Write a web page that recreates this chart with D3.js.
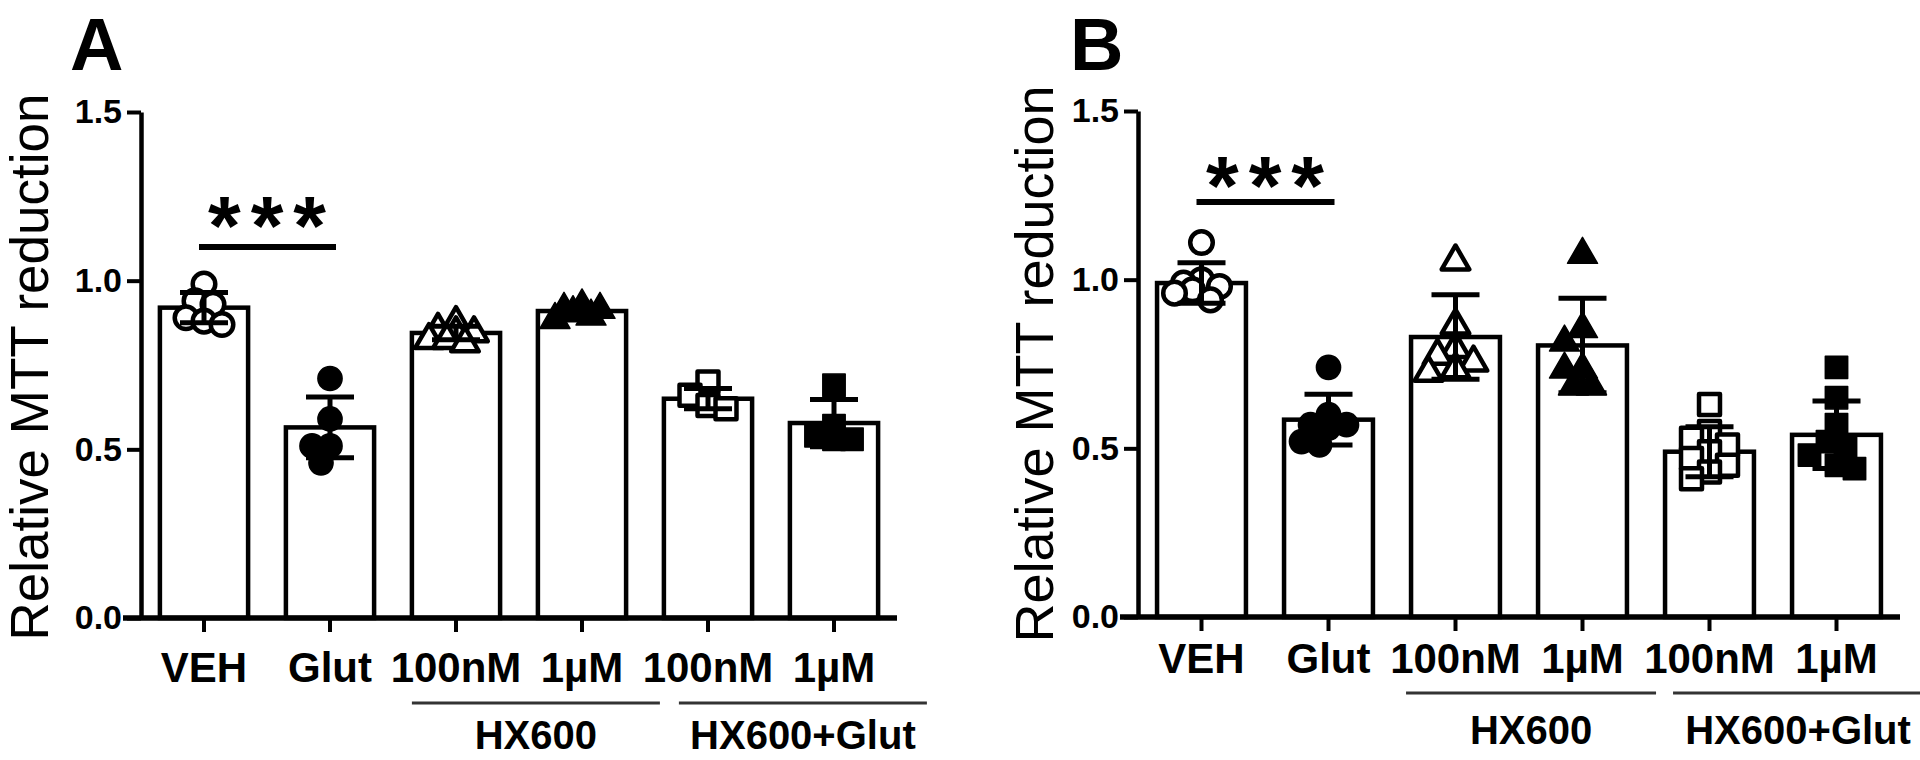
<!DOCTYPE html>
<html><head><meta charset="utf-8">
<script src="https://cdn.jsdelivr.net/npm/d3@7"></script>
<style>body{margin:0;background:#fff}svg{display:block}</style>
</head><body><svg id="c" width="1920" height="760"></svg>
<script>
// ---------- data ----------
const categories = ["VEH", "Glut", "100nM", "1µM", "100nM", "1µM"];
const groupLabels = ["HX600", "HX600+Glut"];
const groupMembers = [[2, 3], [4, 5]];
const yTicks = [0, 0.5, 1.0, 1.5];
const markerShapes = ["circle", "circle", "triangle", "triangle", "square", "square"];
const markerFilled = [false, true, false, true, false, true];
const sigLabel = "***";

const meansA = [0.92, 0.565, 0.845, 0.91, 0.65, 0.578];
const sdA = [0.045, 0.09, 0.02, 0.015, 0.03, 0.07];
const pointsA = [
  [0.99, 0.94, 0.93, 0.89, 0.88, 0.87],
  [0.71, 0.59, 0.51, 0.51, 0.46],
  [0.88, 0.86, 0.85, 0.85, 0.83, 0.83, 0.82],
  [0.93, 0.92, 0.92, 0.91, 0.90, 0.89],
  [0.70, 0.66, 0.63, 0.62],
  [0.69, 0.57, 0.54, 0.53, 0.53]
];
const sigA = [1.10, 1.22]; // bar level, star level

const meansB = [0.99, 0.585, 0.83, 0.805, 0.49, 0.54];
const sdB = [0.06, 0.075, 0.125, 0.14, 0.074, 0.10];
const pointsB = [
  [1.11, 1.00, 0.99, 0.98, 0.97, 0.96, 0.94],
  [0.74, 0.60, 0.57, 0.57, 0.56, 0.52, 0.51],
  [1.06, 0.87, 0.80, 0.78, 0.76, 0.74, 0.73],
  [1.08, 0.86, 0.82, 0.74, 0.74, 0.69, 0.69],
  [0.63, 0.55, 0.53, 0.51, 0.49, 0.47, 0.45, 0.43, 0.41],
  [0.74, 0.65, 0.57, 0.52, 0.50, 0.48, 0.45, 0.44]
];
const sigB = [1.23, 1.335];

// ---------- layout ----------
const panels = [
  {letter: "A", lx: 70, ly: 70, x0: 141, x1: 897, y0: 618, y1: 112,
   titleX: 48, titleY: 367, titleSize: 53, xLabelY: 682, groupLineY: 703, groupLabelY: 749,
   groupShift: [0, 15], means: meansA, sds: sdA, points: pointsA, sig: sigA},
  {letter: "B", lx: 1070, ly: 70, x0: 1138, x1: 1900, y0: 617, y1: 111,
   titleX: 1053, titleY: 364, titleSize: 54, xLabelY: 673, groupLineY: 693, groupLabelY: 744,
   groupShift: [-5, 8], means: meansB, sds: sdB, points: pointsB, sig: sigB}
];

const FONT = "'Liberation Sans', Arial, sans-serif";
const svg = d3.select("#c");
svg.append("rect").attr("width", 1920).attr("height", 760).attr("fill", "#fff");

const symType = {circle: d3.symbolCircle, triangle: d3.symbolTriangle, square: d3.symbolSquare};
const symSize = {circle: 400, triangle: 330, square: 440};
const SW = 4.5;

// deterministic dodge of points that share a category
function dodge(ys, step, dmin, maxOff) {
  const placed = [];
  const cands = [0];
  for (let o = step; o <= maxOff; o += step) { cands.push(-o, o); }
  ys.forEach(py => {
    let best = 0, bestD = -1;
    for (const c of cands) {
      const dd = placed.length ? d3.min(placed, q => Math.hypot(q[0] - c, q[1] - py)) : Infinity;
      if (dd >= dmin) { best = c; bestD = dd; break; }
      if (dd > bestD) { bestD = dd; best = c; }
    }
    placed.push([best, py]);
  });
  return placed;
}

panels.forEach(p => {
  const g = svg.append("g");
  const idx = d3.range(categories.length);
  const x = d3.scaleBand().domain(idx).range([p.x0, p.x1]).paddingInner(0.3).paddingOuter(0.15);
  const y = d3.scaleLinear().domain([0, 1.5]).range([p.y0, p.y1]);
  const cx = i => x(i) + x.bandwidth() / 2;

  // panel letter
  g.append("text").attr("x", p.lx).attr("y", p.ly).text(p.letter)
    .attr("font-family", FONT).attr("font-weight", "bold").attr("font-size", 74);

  // y title
  g.append("text").attr("transform", `translate(${p.titleX},${p.titleY}) rotate(-90)`)
    .attr("text-anchor", "middle").attr("font-family", FONT).attr("font-size", p.titleSize)
    .text("Relative MTT reduction");

  // bars
  g.selectAll("rect.bar").data(p.means).join("rect").attr("class", "bar")
    .attr("x", (d, i) => x(i)).attr("width", x.bandwidth())
    .attr("y", d => y(d)).attr("height", d => y(0) - y(d))
    .attr("fill", "#fff").attr("stroke", "#000").attr("stroke-width", SW);

  // points
  p.points.forEach((vals, i) => {
    const placed = dodge(vals.map(v => y(v)), 9, 17, 27);
    const shape = markerShapes[i];
    const filled = markerFilled[i];
    g.selectAll(null).data(placed).join("path")
      .attr("d", d3.symbol().type(symType[shape]).size(filled ? symSize[shape] + 60 : symSize[shape]))
      .attr("transform", d => `translate(${cx(i) + d[0]},${d[1] + (shape === "triangle" ? 2 : 0)})`)
      .attr("fill", filled ? "#000" : "#fff").attr("stroke", "#000")
      .attr("stroke-width", filled ? 1.5 : 4.5).attr("stroke-linejoin", "round");
  });

  // error bars
  const eb = g.selectAll("g.eb").data(p.means).join("g").attr("class", "eb")
    .attr("stroke", "#000").attr("stroke-width", 5);
  eb.append("line").attr("x1", (d, i) => cx(i)).attr("x2", (d, i) => cx(i))
    .attr("y1", (d, i) => y(d - p.sds[i])).attr("y2", (d, i) => y(d + p.sds[i]));
  eb.append("line").attr("x1", (d, i) => cx(i) - 24).attr("x2", (d, i) => cx(i) + 24)
    .attr("y1", (d, i) => y(d + p.sds[i])).attr("y2", (d, i) => y(d + p.sds[i]));
  eb.append("line").attr("x1", (d, i) => cx(i) - 24).attr("x2", (d, i) => cx(i) + 24)
    .attr("y1", (d, i) => y(d - p.sds[i])).attr("y2", (d, i) => y(d - p.sds[i]));

  // y axis
  const ya = g.append("g").attr("transform", `translate(${p.x0},0)`)
    .call(d3.axisLeft(y).tickValues(yTicks).tickFormat(d3.format(".1f")).tickSize(14).tickSizeOuter(0).tickPadding(5));
  ya.select(".domain").attr("stroke-width", SW);
  ya.selectAll(".tick line").attr("stroke-width", 4);
  ya.selectAll(".tick text").attr("font-family", FONT).attr("font-weight", "bold")
    .attr("font-size", 34).attr("fill", "#000");

  // x axis
  const xa = g.append("g").attr("transform", `translate(0,${p.y0})`)
    .call(d3.axisBottom(x).tickFormat(i => categories[i]).tickSize(14).tickSizeOuter(0));
  xa.select(".domain").attr("stroke-width", 5.5).attr("d", `M${p.x0 - 18},0H${p.x1}`);
  xa.selectAll(".tick line").attr("stroke-width", 4);
  xa.selectAll(".tick text").attr("font-family", FONT).attr("font-weight", "bold")
    .attr("font-size", 42).attr("fill", "#000").attr("dy", null).attr("y", p.xLabelY - p.y0);

  // group lines and labels
  groupMembers.forEach((m, gi) => {
    const a = x(m[0]) + p.groupShift[gi];
    const b = x(m[m.length - 1]) + x.bandwidth() + x.step() * x.paddingInner() - 4 + p.groupShift[gi];
    g.append("line").attr("x1", a).attr("x2", b).attr("y1", p.groupLineY).attr("y2", p.groupLineY)
      .attr("stroke", "#333").attr("stroke-width", 3);
    g.append("text").attr("x", (a + b) / 2).attr("y", p.groupLabelY).attr("text-anchor", "middle")
      .attr("font-family", FONT).attr("font-weight", "bold").attr("font-size", 40).text(groupLabels[gi]);
  });

  // significance
  g.append("line").attr("x1", cx(0) - 5).attr("x2", cx(1) + 6)
    .attr("y1", y(p.sig[0])).attr("y2", y(p.sig[0])).attr("stroke", "#000").attr("stroke-width", 6);
  g.append("text").attr("x", (cx(0) + cx(1)) / 2 + 5).attr("y", y(p.sig[1]) + 0.58 * 84)
    .attr("text-anchor", "middle").attr("font-family", FONT).attr("font-weight", "bold")
    .attr("font-size", 84).attr("letter-spacing", 10).text(sigLabel);
});
</script></body></html>
